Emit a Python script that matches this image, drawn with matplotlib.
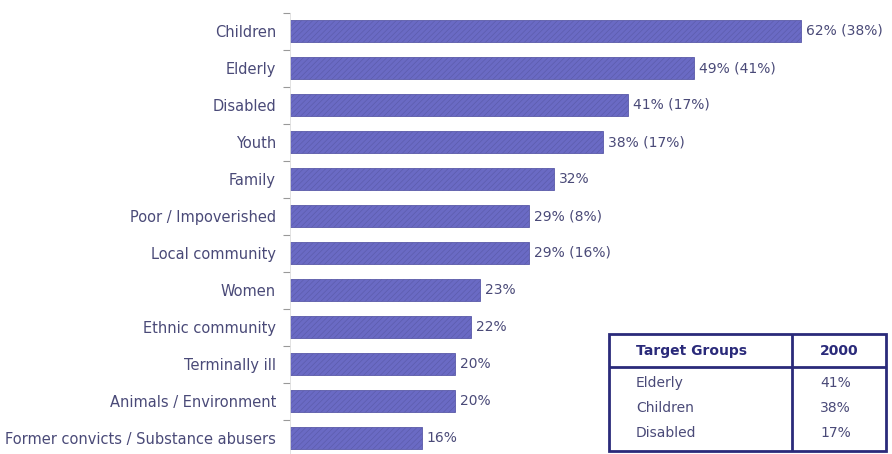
import matplotlib.pyplot as plt
import numpy as np

groups = ["Children", "Elderly", "Disabled", "Youth", "Family",
          "Poor / Impoverished", "Local community", "Women",
          "Ethnic community", "Terminally ill", "Animals / Environment",
          "Former convicts / Substance abusers"]
share = [62, 49, 41, 38, 32, 29, 29, 23, 22, 20, 20, 16]
share_2000 = [38, 41, 17, 17, None, 8, 16, None, None, None, None, None]

table_groups = ["Elderly", "Children", "Disabled"]
table_2000 = [41, 38, 17]

bar_col = "#6a6ac4"
txt_col = "#4a4a78"
line_col = "#2a2a7a"

plt.rcParams["hatch.color"] = "#8888d0"
plt.rcParams["hatch.linewidth"] = 0.4

W, H = 892, 454
fig = plt.figure(figsize=(W / 100, H / 100), dpi=100)
ax = fig.add_axes([290 / W, -2.5 / H, 602 / W, 444 / H])

y = np.arange(len(groups))
ax.barh(y, share, height=0.6, color=bar_col, edgecolor="#5a5aa8",
        linewidth=0.6, hatch="//////")

for yi, v, old in zip(y, share, share_2000):
    lab = f"{v}%" if old is None else f"{v}% ({old}%)"
    ax.text(v + 0.6, yi, lab, va="center", ha="left", fontsize=10,
            color=txt_col)

ax.set_xlim(0, 73)
ax.set_ylim(len(groups) - 0.5, -0.5)
ax.set_yticks(y)
ax.set_yticklabels(groups, fontsize=10.5, color=txt_col)
ax.tick_params(axis="y", which="major", length=0, pad=10)
ax.set_yticks(np.arange(len(groups) + 1) - 0.5, minor=True)
ax.tick_params(axis="y", which="minor", length=5, color="#999999", width=0.8)
ax.set_xticks([])
for s in ["top", "right", "bottom"]:
    ax.spines[s].set_visible(False)
ax.spines["left"].set_color("#dddddd")
ax.spines["left"].set_linewidth(0.6)

# summary table for 2000
tx0, ty0, tw, th = 609, 334, 277, 117
tab = fig.add_axes([tx0 / W, (H - ty0 - th) / H, tw / W, th / H])
tab.set_xlim(0, tw)
tab.set_ylim(th, 0)
tab.axis("off")
tab.add_patch(plt.Rectangle((0, 0), tw, th, fill=False, edgecolor=line_col,
                            linewidth=2, clip_on=False))
tab.plot([0, tw], [33, 33], color=line_col, linewidth=2)
tab.plot([183, 183], [0, th], color=line_col, linewidth=2)
tab.text(27, 17, "Target Groups", fontsize=10, fontweight="bold",
         color=line_col, va="center")
tab.text(230, 17, "2000", fontsize=10, fontweight="bold", color=line_col,
         va="center", ha="center")
for i, (g, v) in enumerate(zip(table_groups, table_2000)):
    ry = 49 + 25 * i
    tab.text(27, ry, g, fontsize=10, color=txt_col, va="center")
    tab.text(211, ry, f"{v}%", fontsize=10, color=txt_col, va="center")

fig.savefig("out.png", dpi=100)
